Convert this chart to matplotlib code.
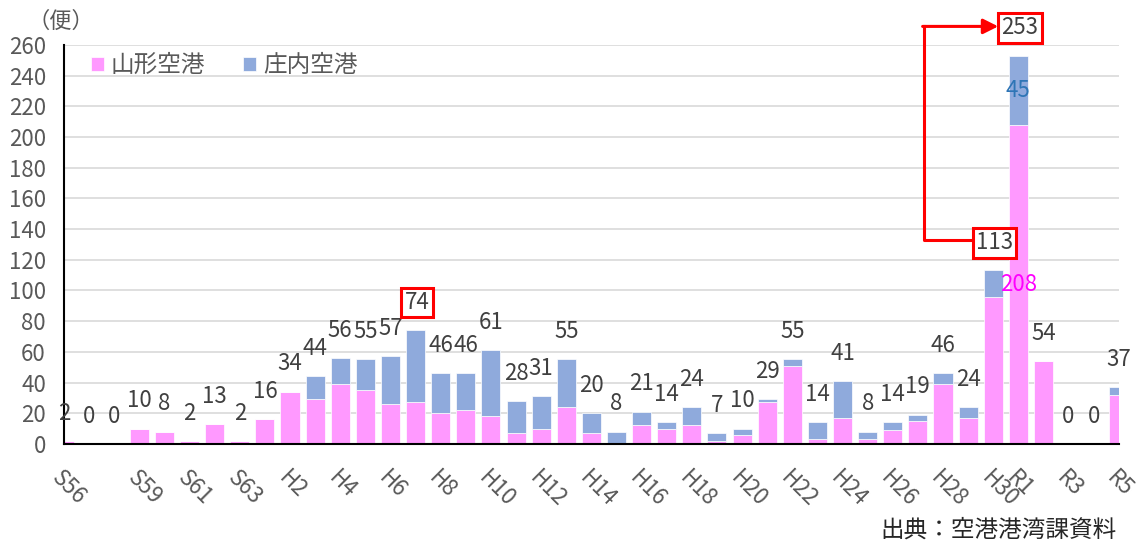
import matplotlib.pyplot as plt
import numpy as np

plt.rcParams['font.family'] = ['Noto Sans CJK JP', 'DejaVu Sans']

years = (['S56', 'S57', 'S58', 'S59', 'S60', 'S61', 'S62', 'S63']
         + ['H{}'.format(i) for i in range(1, 31)]
         + ['R1', 'R2', 'R3', 'R4', 'R5'])
totals = [2, 0, 0, 10, 8, 2, 13, 2, 16, 34, 44, 56, 55, 57, 74, 46, 46, 61, 28, 31,
          55, 20, 8, 21, 14, 24, 7, 10, 29, 55, 14, 41, 8, 14, 19, 46, 24, 113, 253,
          54, 0, 0, 37]
yamagata = [2, 0, 0, 10, 8, 2, 13, 2, 16, 34, 29, 39, 35, 26, 27, 20, 22, 18, 7, 10,
            24, 7, 0, 12, 10, 12, 2, 6, 27, 51, 3, 17, 3, 9, 15, 39, 17, 96, 208,
            54, 0, 0, 32]
shonai = [t - y for t, y in zip(totals, yamagata)]
shown_ticks = ['S56', 'S59', 'S61', 'S63'] + ['H{}'.format(i) for i in range(2, 31, 2)] + ['R1', 'R3', 'R5']
boxed = ['H7', 'H30', 'R1']

pink = '#FF99FF'
blue = '#8FAADC'
gray = '#595959'

fig = plt.figure(figsize=(11.43, 5.42), dpi=100)
ax = fig.add_axes([0.056, 0.181, 0.9228, 0.7363])

x = np.arange(len(years))
ax.bar(x, yamagata, width=0.76, color=pink, edgecolor='white', linewidth=0.5, label='山形空港', zorder=2)
ax.bar(x, shonai, width=0.76, bottom=yamagata, color=blue, edgecolor='white', linewidth=0.5, label='庄内空港', zorder=2)

ax.set_xlim(0, len(years) - 1)
ax.set_ylim(0, 260)
ax.set_yticks(range(0, 261, 20))
ax.yaxis.grid(True, color='#D9D9D9', linewidth=1.2, zorder=0)
ax.set_axisbelow(True)
for s in ['top', 'right']:
    ax.spines[s].set_visible(False)
ax.spines['left'].set_linewidth(1.5)
ax.spines['bottom'].set_linewidth(1.5)
ax.tick_params(axis='both', length=0, labelsize=16, labelcolor=gray)
ax.tick_params(axis='y', pad=13)

ax.set_xticks(x)
ax.set_xticklabels([y if y in shown_ticks else '' for y in years], rotation=-45,
                   ha='left', va='top', rotation_mode='anchor')
ax.tick_params(axis='x', pad=16)

for i, (yr, t) in enumerate(zip(years, totals)):
    bb = None
    if yr in boxed:
        bb = dict(boxstyle='square,pad=0.15', facecolor='white', edgecolor='#FF0000', linewidth=2.2)
    ax.annotate(str(t), (i, t), xytext=(1 if yr in boxed else 0, 20), textcoords='offset points',
                ha='center', va='center', fontsize=16, color='#404040', bbox=bb, zorder=5)

r1 = years.index('R1')
ax.text(r1, yamagata[r1] / 2, str(yamagata[r1]), ha='center', va='center', fontsize=16, color='#FF00FF', zorder=4)
ax.text(r1, yamagata[r1] + shonai[r1] / 2, str(shonai[r1]), ha='center', va='center', fontsize=16, color='#2E75B6', zorder=4)

# arrow from 113 to 253
h30 = years.index('H30')
ax.plot([h30 - 0.85, h30 - 2.75, h30 - 2.75], [totals[h30] + 20, totals[h30] + 20, totals[r1] + 19],
        color='#FF0000', linewidth=2.2, clip_on=False, zorder=6)
ax.annotate('', xy=(r1 - 0.8, totals[r1] + 19), xytext=(h30 - 2.81, totals[r1] + 19),
            arrowprops=dict(arrowstyle='-|>,head_length=0.9,head_width=0.45', color='#FF0000', lw=2.2,
                            shrinkA=0, shrinkB=0), annotation_clip=False, zorder=6)

ax.legend(loc='upper left', bbox_to_anchor=(0.005, 1.03), ncol=2, frameon=False, fontsize=17,
          labelcolor=gray, handlelength=0.55, handleheight=0.55, handletextpad=0.3, columnspacing=1.6)

fig.text(0.024, 0.96, '（便）', fontsize=16, color=gray, ha='left', va='center')
fig.text(0.977, 0.022, '出典：空港港湾課資料', fontsize=17, color='#262626', ha='right', va='center')

fig.savefig('out.png', dpi=100)
